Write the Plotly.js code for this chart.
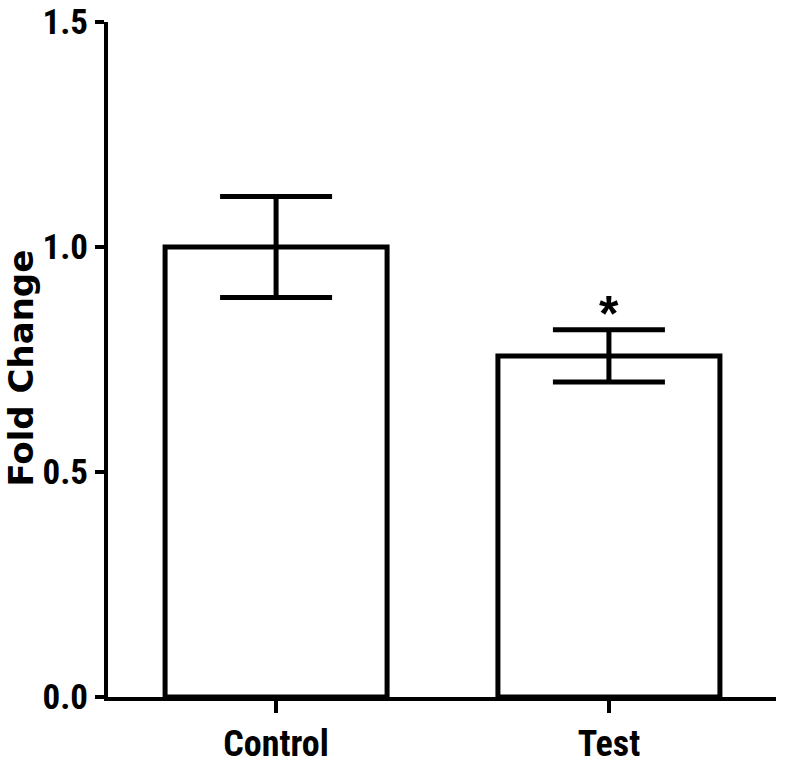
<!DOCTYPE html>
<html>
<head>
<meta charset="utf-8">
<script src="https://cdn.plot.ly/plotly-3.0.1.min.js"></script>
<style>html,body{margin:0;padding:0;background:#fff;}#chart{width:786px;height:765px;}</style>
</head>
<body>
<div id="chart"></div>
<script>
const categories = ["Control", "Test"];
const values = [1.0, 0.758];
const errors = [0.112, 0.058];
const significance = ["", "*"];
const yTickValues = [0, 0.5, 1.0, 1.5];
const yTickLabels = ["0.0", "0.5", "1.0", "1.5"];

const narrow = "Liberation Sans Narrow, Arial Narrow, Roboto Condensed, sans-serif";

const trace = {
  type: "bar",
  x: categories,
  y: values,
  marker: { color: "#ffffff", line: { color: "#000000", width: 5 } },
  error_y: { type: "data", array: errors, visible: true, color: "#000000", thickness: 5, width: 56 },
  hoverinfo: "none"
};

const annotations = [];
categories.forEach((c, i) => {
  if (significance[i]) {
    annotations.push({
      x: c, y: values[i] + errors[i], xref: "x", yref: "y",
      text: "<b>" + significance[i] + "</b>", showarrow: false,
      yanchor: "bottom", yshift: -14,
      font: { family: "Liberation Sans, Arial, sans-serif", size: 50, color: "#000" }
    });
  }
});
annotations.push({
  xref: "paper", yref: "paper", x: 0, y: 0.5, xshift: -88, yshift: -9,
  text: "<b>Fold Change</b>", textangle: -90, showarrow: false,
  xanchor: "center", yanchor: "middle",
  font: { family: "DejaVu Sans, sans-serif", size: 34, color: "#000" }
});

const layout = {
  width: 786, height: 765,
  margin: { l: 108, r: 10, t: 22, b: 68 },
  paper_bgcolor: "#ffffff", plot_bgcolor: "#ffffff",
  showlegend: false,
  bargap: 0.333,
  xaxis: {
    type: "category", range: [-0.505, 1.502],
    showline: true, linecolor: "#000", linewidth: 4,
    ticks: "outside", ticklen: 12, tickwidth: 4, tickcolor: "#000",
    showgrid: false, zeroline: false, ticklabelstandoff: 0,
    tickfont: { family: narrow, size: 36, color: "#000", weight: "bold" }
  },
  yaxis: {
    range: [0, 1.5], tickvals: yTickValues, ticktext: yTickLabels,
    showline: true, linecolor: "#000", linewidth: 4,
    ticks: "outside", ticklen: 9, tickwidth: 4, tickcolor: "#000",
    showgrid: false, zeroline: false,
    tickfont: { family: narrow, size: 35, color: "#000", weight: "bold" }
  },
  annotations: annotations
};

Plotly.newPlot("chart", [trace], layout, { staticPlot: true, displayModeBar: false });
</script>
</body>
</html>
